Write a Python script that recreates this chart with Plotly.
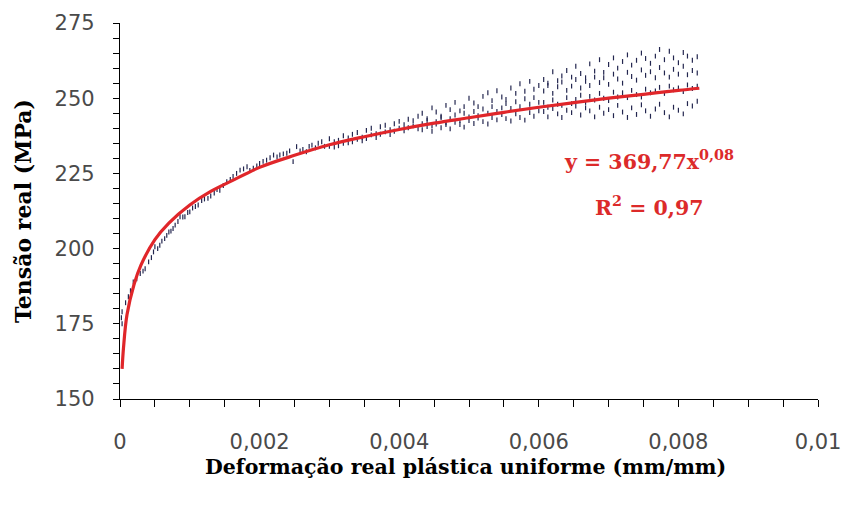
import plotly.graph_objects as go

# ---- data ----
fit_strain = [0.00003, 0.00005, 0.0001, 0.0002, 0.0003, 0.0005, 0.0007, 0.001, 0.0013,
              0.0016, 0.002, 0.0025, 0.003, 0.0035, 0.004, 0.0045, 0.005, 0.0055,
              0.006, 0.0065, 0.007, 0.0075, 0.008, 0.0083]
fit_stress = [160, 167, 178, 188, 194.5, 203, 208.5, 214.5, 219,
              222.5, 227, 231, 234.5, 237.2, 239.6, 241.7, 243.5, 245.3,
              247, 248.5, 250, 251.3, 252.6, 253.3]

low_strain = [0.00002, 0.00003, 0.00003, 0.00008, 0.00012, 0.00015, 0.00019, 0.00024, 0.00029,
              0.00033, 0.00036, 0.00041, 0.00045, 0.00048, 0.0005, 0.00054, 0.00057, 0.0006,
              0.00064, 0.00067, 0.0007, 0.00073, 0.00076, 0.00079, 0.00083, 0.00086, 0.0009,
              0.00093, 0.00097, 0.001, 0.00104, 0.00108, 0.00112, 0.00117, 0.00121, 0.00126,
              0.0013, 0.00135, 0.00139, 0.00143, 0.00148, 0.00153, 0.00158, 0.00162, 0.00167,
              0.00172, 0.00177, 0.00182, 0.00186, 0.00191, 0.00196, 0.002, 0.00205, 0.0021,
              0.00215, 0.0022, 0.00225, 0.00229, 0.00234, 0.00239, 0.00243, 0.00248, 0.00253,
              0.00258, 0.00262, 0.00267, 0.00271, 0.00275, 0.0028, 0.00284, 0.00289, 0.00293]
low_stress = [177, 179, 175, 182, 184, 186, 188.9, 190, 191.7,
              192.5, 193.3, 195.6, 197, 198.9, 200.6, 200, 201.1, 202.5,
              203.3, 204.4, 205.5, 205.8, 206.7, 207.8, 209, 210.6, 210.5,
              210.6, 212, 212.2, 213.5, 214, 214.5, 216, 216.5, 216.7,
              217.5, 218.5, 219.6, 219.4, 221, 222.2, 223, 224, 225,
              226.1, 226.5, 227.2, 226, 226.7, 227.5, 228.3, 229, 229.4,
              230.2, 231.1, 230.5, 231.1, 231.5, 231.7, 232.5, 228.9, 233.9,
              232.5, 233, 232.2, 234, 234.4, 233.5, 235, 235.5, 234]

mid_strain = [0.00300, 0.00307, 0.00313, 0.00320, 0.00327, 0.00333, 0.00340, 0.00347,
              0.00353, 0.00360, 0.00367, 0.00373, 0.00380, 0.00387, 0.00393, 0.00400,
              0.00407, 0.00413, 0.00420, 0.00427]
mid_stress_a = [234, 235.5, 236, 237.5, 235.2, 238, 236.3, 237, 239.3, 237.8,
                238.2, 240.5, 238.8, 239.5, 241.5, 240, 239.2, 243, 240.8, 244]
mid_stress_b = [236.5, 233.8, 234.2, 235, 236.8, 235.5, 238.6, 235.8, 236.6, 240,
                236.9, 238, 241, 237.9, 239, 242.3, 241.2, 240.2, 242.5, 239.8]

up_strain = [0.00433, 0.00440, 0.00447, 0.00453, 0.00460, 0.00467, 0.00473, 0.00480,
             0.00487, 0.00493, 0.00500, 0.00507, 0.00513, 0.00520, 0.00527, 0.00533,
             0.00540, 0.00547, 0.00553, 0.00560, 0.00567, 0.00573, 0.00580, 0.00587,
             0.00593, 0.00600]
up_stress_top = [245, 243.2, 246.8, 245.4, 244, 247.6, 246.2, 248.6, 245.8, 247.2,
                 250, 248.4, 247.2, 250.6, 251.8, 249.2, 252.5, 250.4, 249.6, 253.4,
                 251.6, 254.8, 252.3, 255.6, 253, 254.2]
up_stress_mid = [241.5, 242.6, 240.8, 242.2, 243.6, 241.8, 243.2, 244.4, 242.6, 245,
                 243.8, 245.6, 244.2, 246.4, 245, 247.2, 245.6, 246.8, 248.2, 246.6,
                 248.8, 247.2, 249.8, 248, 250.2, 248.6]
up_stress_low = [239.5, 240.6, 239, 241.4, 240.2, 241.2, 239.8, 242, 241.2, 240.4,
                 242.6, 241.6, 243.4, 242.2, 241.4, 243.6, 242.8, 244.6, 243.2, 242.4,
                 244.8, 243.6, 242.7, 245.2, 244, 245.8]

hi_strain = [0.00607, 0.00613, 0.00620, 0.00627, 0.00633, 0.00640, 0.00647, 0.00653,
             0.00660, 0.00667, 0.00673, 0.00680, 0.00687, 0.00693, 0.00700, 0.00707,
             0.00713, 0.00720, 0.00727, 0.00733, 0.00740, 0.00747, 0.00753, 0.00760,
             0.00767, 0.00773, 0.00780, 0.00787, 0.00793, 0.00800, 0.00807, 0.00813,
             0.00820, 0.00827]
hi_stress_1 = [256.2, 255, 258.8, 255.8, 257.4, 259.2, 257, 260.6, 258.2, 256.8,
               261.4, 259, 262.8, 258.6, 261.2, 263.4, 260, 262.2, 264.4, 261,
               262.6, 265, 263.2, 261.6, 264, 266.2, 262.8, 265.6, 263.4, 261.8,
               265.2, 264, 262.6, 263.8]
hi_stress_2 = [252.4, 254.2, 251.6, 253.8, 255.4, 252.6, 254, 256.2, 253.4, 255.6,
               254.2, 257, 255.2, 256.8, 254.6, 258, 256.4, 255, 258.6, 257.2,
               256, 259.4, 257.6, 258.8, 256.8, 260.2, 258.4, 257, 259.6, 258,
               260.6, 257.8, 259.2, 258.4]
hi_stress_3 = [248.6, 247, 249.4, 248, 247.6, 250.2, 248.2, 249.6, 251, 248.6,
               250.6, 249.4, 251.6, 250, 249.2, 252, 250.4, 251.8, 250.2, 252.6,
               251.2, 250.4, 253, 251.8, 252.4, 253.6, 251.6, 254, 252.8, 253.4,
               252.2, 254.4, 253.2, 254]
hi_stress_4 = [245.6, 243.8, 246.6, 244.8, 243.6, 246, 245.2, 247.4, 244.4, 246.8,
               245.8, 243.8, 247, 245, 246.2, 244.2, 247.6, 245.4, 243.6, 246.8,
               244.6, 247.8, 245.8, 244, 246.4, 248, 245.2, 243.8, 247, 246,
               244.8, 248.2, 247.4, 249]

x_tick_vals = [0, 0.002, 0.004, 0.006, 0.008, 0.01]
x_tick_text = ["0", "0,002", "0,004", "0,006", "0,008", "0,01"]
y_tick_vals = [150, 175, 200, 225, 250, 275]

x_title = "Deformação real plástica uniforme (mm/mm)"
y_title = "Tensão real (MPa)"
eq_text = "y = 369,77x<sup>0,08</sup>"
r2_text = "R<sup>2</sup> = 0,97"

# ---- assemble scatter ----
pts_x = (low_strain + mid_strain + mid_strain + up_strain * 3 + hi_strain * 4)
pts_y = (low_stress + mid_stress_a + mid_stress_b + up_stress_top + up_stress_mid +
         up_stress_low + hi_stress_1 + hi_stress_2 + hi_stress_3 + hi_stress_4)

fig = go.Figure()
fig.add_trace(go.Scatter(
    x=pts_x, y=pts_y, mode="markers",
    marker=dict(symbol="line-ns", size=3.5, line=dict(width=1.2, color="#23264f")),
    showlegend=False, hoverinfo="skip"))
fig.add_trace(go.Scatter(
    x=fit_strain, y=fit_stress, mode="lines",
    line=dict(color="#e0262a", width=3.2, shape="spline"),
    showlegend=False))

red = "#dc2a2a"
fig.add_annotation(x=0.00758, y=229.3, xref="x", yref="y", text=eq_text, showarrow=False,
                   font=dict(family="DejaVu Serif", size=20.5, color=red, weight="bold"),
                   xanchor="center", yanchor="middle")
fig.add_annotation(x=0.00758, y=214.0, xref="x", yref="y", text=r2_text, showarrow=False,
                   font=dict(family="DejaVu Serif", size=20.5, color=red, weight="bold"),
                   xanchor="center", yanchor="middle")
# x-axis title
fig.add_annotation(x=0.4957, y=-0.181, xref="paper", yref="paper", text=x_title,
                   showarrow=False, xanchor="center", yanchor="middle",
                   font=dict(family="DejaVu Serif", size=20.5, color="black", weight="bold"))

fig.update_layout(
    width=843, height=513,
    margin=dict(l=120, r=25, t=23, b=114),
    paper_bgcolor="white", plot_bgcolor="white",
)
fig.update_xaxes(
    range=[0, 0.01], showgrid=False, zeroline=False, automargin=False,
    showline=True, linecolor="black", linewidth=1.2,
    ticks="outside", ticklen=7, tickcolor="black", tickwidth=1,
    tickvals=x_tick_vals, ticktext=x_tick_text,
    minor=dict(dtick=0.0005, ticks="outside", ticklen=7, tickcolor="black", showgrid=False),
    tickfont=dict(family="DejaVu Sans", size=21, color="#4a4a4a"),
    ticklabelstandoff=17,
)
fig.update_yaxes(
    range=[150, 275], showgrid=False, zeroline=False, automargin=False,
    showline=True, linecolor="black", linewidth=1.2,
    ticks="outside", ticklen=6, tickcolor="black", tickwidth=1,
    tickvals=y_tick_vals,
    minor=dict(dtick=5, ticks="outside", ticklen=6, tickcolor="black", showgrid=False),
    tickfont=dict(family="DejaVu Sans", size=21, color="#4a4a4a"),
    ticklabelstandoff=14,
    title=dict(text=y_title,
               font=dict(family="DejaVu Serif", size=22, color="black", weight="bold"),
               standoff=16),
)

fig.write_html("out.html")
